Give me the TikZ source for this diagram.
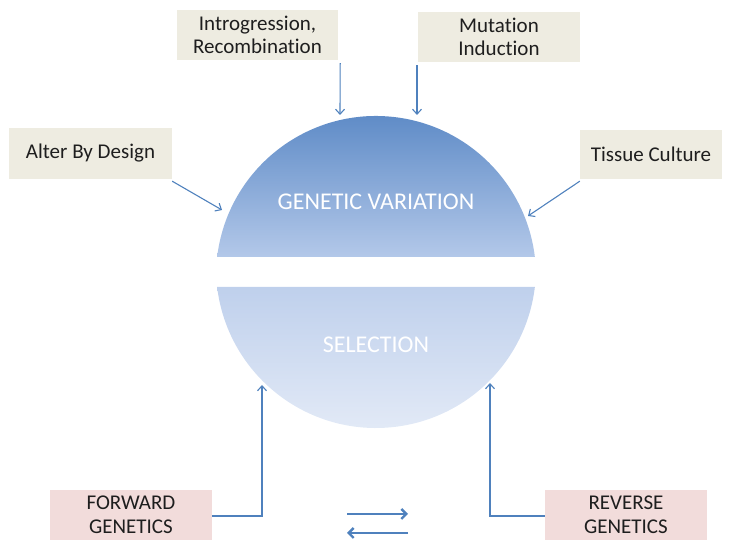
\documentclass[tikz,border=0pt]{standalone}
\usepackage{fontspec}
\setmainfont[Ligatures=NoCommon]{Carlito}
\usetikzlibrary{arrows.meta}
\definecolor{boxbeige}{HTML}{EEECE1}
\definecolor{boxpink}{HTML}{F2DCDB}
\definecolor{linkblue}{HTML}{4F81BD}
\definecolor{txtgray}{HTML}{1E1E1E}
\definecolor{gvtop}{HTML}{5A88C5}
\definecolor{gvbot}{HTML}{B3C8E9}
\definecolor{seltop}{HTML}{BFD0EC}
\definecolor{selbot}{HTML}{E4EBF7}
\begin{document}
\begin{tikzpicture}[x=1pt,y=1pt,
  srcbox/.style={fill=boxbeige, draw=none, inner sep=0pt, text=txtgray,
    font=\fontsize{21}{23.5}\selectfont, align=center, minimum height=50pt},
  approach/.style={srcbox, fill=boxpink},
  halflabel/.style={text=white, font=\fontsize{24}{28}\selectfont, inner sep=0pt},
  link/.style={draw=linkblue, line width=1.1pt, -{Straight Barb[length=5pt,width=9pt]}},
  swap/.style={draw=linkblue, line width=2.4pt, -{Straight Barb[length=5pt,width=10pt]}}]
\useasboundingbox (0,0) rectangle (734,540);

% upper half of the split disc
\shade[top color=gvtop, bottom color=gvbot]
  (217.13,283) arc[start angle=173.18, end angle=6.82, radius=160] -- cycle;
% lower half of the split disc
\shade[top color=seltop, bottom color=selbot]
  (217.13,253) arc[start angle=186.82, end angle=353.18, radius=160] -- cycle;

\node[halflabel] (gv) at (376,338) {GENETIC VARIATION};
\node[halflabel] (sel) at (376,195) {SELECTION};

% sources of variation
\node[srcbox, minimum width=161pt] (intro) at (257.5,505) {Introgression,\\Recombination};
\node[srcbox, minimum width=162pt] (mut) at (499,503) {Mutation\\Induction};
\node[srcbox, minimum width=163pt, minimum height=51pt] (alter) at (90.5,386.5) {Alter By Design};
\node[srcbox, minimum width=142pt, minimum height=49pt] (tissue) at (651,385.5) {Tissue Culture};

% approaches feeding selection
\node[approach, minimum width=162pt] (fwd) at (131,25) {FORWARD\\GENETICS};
\node[approach, minimum width=162pt] (rev) at (626,25) {REVERSE\\GENETICS};

% arrow targets on the disc rim
\coordinate (introIn) at (340,425);
\coordinate (mutIn) at (417,425);
\coordinate (alterIn) at (222,330);
\coordinate (tissueIn) at (528,324);
\coordinate (fwdIn) at (262,155);
\coordinate (revIn) at (490,157);
\coordinate (fwdBend) at (262,24);
\coordinate (revBend) at (490,24);

\draw[link] ([shift={(2,-3)}]intro.south east) -- (introIn);
\draw[link] (mutIn |- mut.south) ++(0,-3) -- (mutIn);
\draw[link] ([shift={(0,-2)}]alter.south east) -- (alterIn);
\draw[link] ([shift={(0,-2)}]tissue.south west) -- (tissueIn);
\draw[link] (fwd.east |- fwdBend) -- (fwdBend) -- (fwdIn);
\draw[link] (rev.west |- revBend) -- (revBend) -- (revIn);

% interchange between the two approaches
\coordinate (swapL) at (347,26);
\coordinate (swapR) at (408,26);
\coordinate (swapL2) at (347,7);
\coordinate (swapR2) at (408,7);
\draw[swap] (swapL) -- (swapR);
\draw[swap] (swapR2) -- (swapL2);
\end{tikzpicture}
\end{document}
